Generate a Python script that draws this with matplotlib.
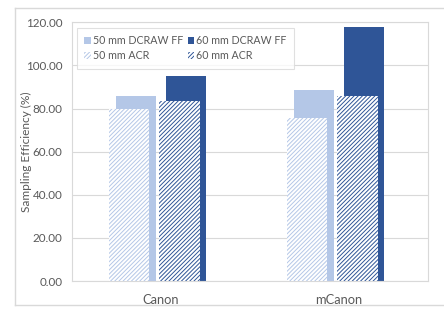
import numpy as np
import matplotlib.pyplot as plt
from matplotlib.lines import Line2D

plt.rcParams['font.family'] = ['Lato', 'DejaVu Sans']
plt.rcParams['hatch.linewidth'] = 0.7

categories = ['Canon', 'mCanon']
dcraw_50 = [86.0, 88.5]
dcraw_60 = [94.9, 117.8]
acr_50 = [80.0, 75.4]
acr_60 = [83.5, 86.0]

light = '#B4C7E7'
dark = '#2F5597'
txt = '#595959'

fig = plt.figure(figsize=(4.44, 3.09), dpi=100)
# outer chart border (right side is cut off in the original)
bx0, by0, by1 = 15 / 444, 4 / 309, 301 / 309
for xs, ys in [([bx0, 1], [by1, by1]), ([bx0, bx0], [by0, by1]), ([bx0, 1], [by0, by0])]:
    fig.lines.append(Line2D(xs, ys, transform=fig.transFigure, color='#D9D9D9', linewidth=1.0))
ax = fig.add_axes([72 / 444, 28 / 309, 356 / 444, 258.7 / 309])

x = np.arange(len(categories))
w = 0.225
ax.bar(x - 0.143, dcraw_50, w, color=light, label='50 mm DCRAW FF', zorder=2)
ax.bar(x + 0.143, dcraw_60, w, color=dark, label='60 mm DCRAW FF', zorder=2)
ax.bar(x - 0.181, acr_50, w, color='white', edgecolor=light, linewidth=0, hatch='////////',
       label='50 mm ACR', zorder=3)
ax.bar(x + 0.104, acr_60, w, color='white', edgecolor=dark, linewidth=0, hatch='////////',
       label='60 mm ACR', zorder=3)

ax.set_xlim(-0.5, 1.5)
ax.set_ylim(0, 120)
ax.set_yticks(np.arange(0, 121, 20))
ax.set_yticklabels(['%.2f' % v for v in np.arange(0, 121, 20)])
ax.set_xticks(x)
ax.set_xticklabels(categories)
ax.tick_params(axis='y', length=0, labelsize=8.4, colors=txt, pad=7)
ax.tick_params(axis='x', length=0, labelsize=9.3, colors=txt, pad=9)
ax.grid(axis='y', color='#D9D9D9', linewidth=0.8, zorder=0)
for s in ax.spines.values():
    s.set_color('#D9D9D9')
    s.set_linewidth(0.8)
ax.set_ylabel('Sampling Efficiency (%)', fontsize=8.6, color=txt)
ax.yaxis.set_label_coords(-0.112, 0.5)

h, l = ax.get_legend_handles_labels()
order = [0, 2, 1, 3]
leg = ax.legend([h[i] for i in order], [l[i] for i in order], ncol=2, loc='upper left',
                bbox_to_anchor=(77 / 444, 1 - 27.7 / 309), bbox_transform=fig.transFigure,
                borderaxespad=0, fontsize=7.7, frameon=True, fancybox=False,
                edgecolor='#D9D9D9', handlelength=0.6, handleheight=0.6, handletextpad=0.2,
                columnspacing=0.4, labelspacing=0.4, borderpad=0.7, labelcolor=txt)
leg.get_frame().set_linewidth(0.8)

fig.savefig('out.png', dpi=100)
